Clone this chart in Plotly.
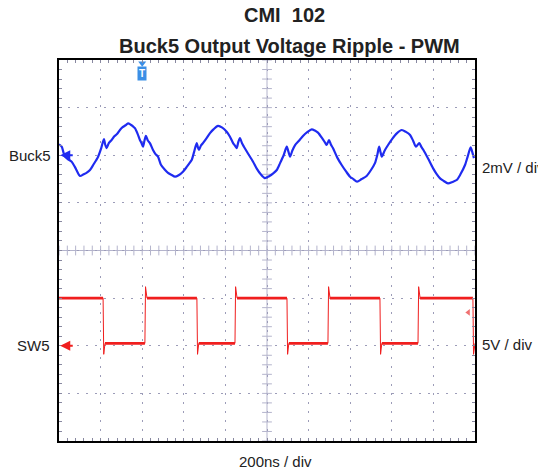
import numpy as np
import plotly.graph_objs as go

# Buck5 output ripple (time in ns, ripple in mV)
buck5_t = [0, 13, 22, 29, 45, 61, 80, 101, 118, 132, 149, 165, 178, 188, 203, 216, 222, 229, 240,
           253, 266, 280, 293, 306, 320, 332, 345, 355, 365, 378, 389, 397, 404, 411, 418, 427,
           437, 452, 464, 476, 490, 508, 524, 540, 558, 575, 596, 615, 630, 638, 650, 662, 668,
           673, 682, 692, 708, 726, 744, 764, 785, 806, 822, 837, 846, 854, 862, 870, 880, 889,
           910, 933, 950, 970, 990, 1010, 1030, 1047, 1063, 1080, 1095, 1103, 1111, 1122, 1135,
           1155, 1173, 1195, 1215, 1230, 1245, 1265, 1280, 1287, 1298, 1307, 1317, 1338, 1359,
           1380, 1399, 1415, 1433, 1455, 1479, 1500, 1519, 1530, 1539, 1546, 1552, 1566, 1582,
           1603, 1624, 1648, 1668, 1688, 1703, 1716, 1732, 1742, 1752, 1775, 1798, 1815, 1832,
           1850, 1870, 1892, 1912, 1930, 1952, 1965, 1979, 1988, 1995]
buck5_mv = [0.45, 0.36, 0.10, -0.06, -0.18, -0.27, -0.55, -0.87, -0.80, -0.74, -0.62, -0.40, -0.22,
            -0.06, 0.30, 0.68, 0.45, 0.30, 0.52, 0.64, 0.80, 0.90, 1.06, 1.18, 1.26, 1.34, 1.28,
            1.22, 1.14, 0.90, 0.64, 0.50, 0.36, 0.62, 0.81, 0.62, 0.51, 0.22, 0.05, -0.06, -0.40,
            -0.60, -0.74, -0.82, -0.90, -0.84, -0.69, -0.48, -0.30, -0.20, 0.15, 0.51, 0.32, 0.22,
            0.40, 0.51, 0.70, 0.93, 1.10, 1.23, 1.16, 0.99, 0.78, 0.51, 0.40, 0.30, 0.55, 0.72,
            0.50, 0.36, 0.05, -0.27, -0.55, -0.80, -0.96, -0.88, -0.76, -0.62, -0.33, 0.00, 0.36,
            0.15, -0.06, 0.20, 0.43, 0.62, 0.81, 0.98, 1.09, 1.04, 0.95, 0.72, 0.52, 0.43, 0.64,
            0.45, 0.30, -0.10, -0.41, -0.68, -0.90, -1.00, -1.11, -1.00, -0.87, -0.62, -0.33, 0.00,
            0.36, 0.12, -0.06, 0.20, 0.43, 0.70, 0.92, 1.06, 0.98, 0.85, 0.60, 0.36, 0.51, 0.35,
            0.22, -0.15, -0.54, -0.78, -0.97, -1.08, -1.18, -1.12, -1.04, -0.80, -0.41, -0.05,
            0.33, 0.10, -0.12]

# SW5 switch node (edges in ns, levels in V); first edge is a falling one
sw5_edges_ns = [212, 413, 663, 846, 1096, 1293, 1543, 1726, 1990]
sw5_high_v = 5.0
sw5_low_v = 0.25
sw5_overshoot_v = 6.2
sw5_undershoot_v = -0.9

# build switch waveform: thin full trace + thicker flat tops/bottoms
sw_t, sw_v = [0], [sw5_high_v]
flat_t, flat_v = [0], [sw5_high_v]
level = sw5_high_v
for i, te in enumerate(sw5_edges_ns):
    if i % 2 == 0:
        sw_t += [te, te + 3, te + 9]
        sw_v += [sw5_high_v, sw5_undershoot_v, sw5_low_v]
        flat_t += [te, None, te + 9]
        flat_v += [sw5_high_v, None, sw5_low_v]
        level = sw5_low_v
    else:
        sw_t += [te, te + 3, te + 10]
        sw_v += [sw5_low_v, sw5_overshoot_v, sw5_high_v]
        flat_t += [te, None, te + 10]
        flat_v += [sw5_low_v, None, sw5_high_v]
        level = sw5_high_v
if sw_t[-1] < 2000:
    sw_t.append(2000)
    sw_v.append(level)

BLUE = '#1f2bf0'
RED = '#f01e1e'
GRID = '#9c9cb8'
CENTER = '#b4b4cc'
TXT = '#222222'

data = []

# center graticule tick marks
cx = np.arange(0, 2001, 40)
cy = np.arange(-4, 4.01, 0.2)
data.append(go.Scatter(x=cx, y=[0] * len(cx), mode='markers', hoverinfo='skip',
                       marker=dict(symbol='line-ns', size=7, line=dict(color=CENTER, width=1))))
data.append(go.Scatter(x=[1000] * len(cy), y=cy, mode='markers', hoverinfo='skip',
                       marker=dict(symbol='line-ew', size=7, line=dict(color=CENTER, width=1))))

# traces
data.append(go.Scatter(x=buck5_t, y=buck5_mv, yaxis='y2', mode='lines',
                       line=dict(color=BLUE, width=2.2, shape='spline', smoothing=0.7)))
data.append(go.Scatter(x=sw_t, y=sw_v, yaxis='y3', mode='lines',
                       line=dict(color=RED, width=1)))
data.append(go.Scatter(x=flat_t, y=flat_v, yaxis='y3', mode='lines',
                       line=dict(color=RED, width=2.6), connectgaps=False))

# trigger flag and trigger-level marker
data.append(go.Scatter(x=[400], y=[3.93], mode='markers', hoverinfo='skip',
                       marker=dict(symbol='triangle-down', size=7, color='#3b8fe6')))
data.append(go.Scatter(x=[1968], y=[3.5], yaxis='y3', mode='markers', hoverinfo='skip',
                       marker=dict(symbol='triangle-left', size=6, color='#f07070')))

axis_common = dict(showline=True, linecolor='black', linewidth=2, mirror='allticks',
                   showgrid=True, gridcolor=GRID, gridwidth=1, griddash='2px,7px',
                   ticks='inside', ticklen=3, tickcolor='#8888a0', showticklabels=False,
                   zeroline=False, fixedrange=True)


def label(text, x, y, size=15, xanchor='center', yref='paper', bold=False):
    if bold:
        text = '<b>' + text + '</b>'
    return dict(text=text, xref='paper', yref=yref, x=x, y=y, xanchor=xanchor,
                yanchor='middle', showarrow=False, font=dict(size=size, color=TXT))


# the page body has an 8px margin, so the figure is 8px smaller and its
# margins are 8px tighter on the left/top
layout = go.Layout(
    width=538, height=466,
    margin=dict(l=51, r=71, t=52, b=33),
    paper_bgcolor='white', plot_bgcolor='white',
    showlegend=False,
    font=dict(family='Liberation Sans, Arial, sans-serif', color=TXT),
    xaxis=dict(range=[0, 2000], dtick=200,
               minor=dict(dtick=40, ticks='inside', ticklen=3, tickcolor='#8888a0'),
               **axis_common),
    yaxis=dict(range=[-4, 4], dtick=1,
               minor=dict(dtick=0.2, ticks='inside', ticklen=3, tickcolor='#8888a0'),
               **axis_common),
    yaxis2=dict(range=[-12, 4], overlaying='y', visible=False, fixedrange=True),
    yaxis3=dict(range=[-10, 30], overlaying='y', visible=False, fixedrange=True),
    shapes=[
        dict(type='line', xref='x', yref='y', x0=0, x1=2000, y0=0, y1=0,
             line=dict(color=CENTER, width=1), layer='below'),
        dict(type='line', xref='x', yref='y', x0=1000, x1=1000, y0=-4, y1=4,
             line=dict(color=CENTER, width=1), layer='below'),
    ],
    annotations=[
        label('CMI\u00a0 102', 0.541, 1.1168, size=20, bold=True),
        label('Buck5 Output Voltage Ripple - PWM', 0.555, 1.037, size=20, bold=True),
        label('Buck5', -0.014, 0, xanchor='right', yref='y2'),
        label('SW5', -0.017, 0, xanchor='right', yref='y3'),
        label('2mV / div', 1.012, 0.717, xanchor='left'),
        label('5V / div', 1.012, 0.252, xanchor='left'),
        label('200ns / div', 0.52, -0.0525),
        # channel reference arrows
        dict(text='', x=6, y=0, xref='x', yref='y2', ax=14, ay=0, showarrow=True,
             arrowhead=2, arrowsize=1, arrowwidth=2, arrowcolor=BLUE),
        dict(text='', x=6, y=0, xref='x', yref='y3', ax=14, ay=0, showarrow=True,
             arrowhead=2, arrowsize=1, arrowwidth=2, arrowcolor=RED),
        # trigger flag
        dict(text='<b>T</b>', x=400, y=3.72, xref='x', yref='y', showarrow=False,
             bgcolor='#3b8fe6', borderpad=1, font=dict(size=10, color='white')),
    ],
)

fig = go.Figure(data=data, layout=layout)
fig.write_html("out.html")
